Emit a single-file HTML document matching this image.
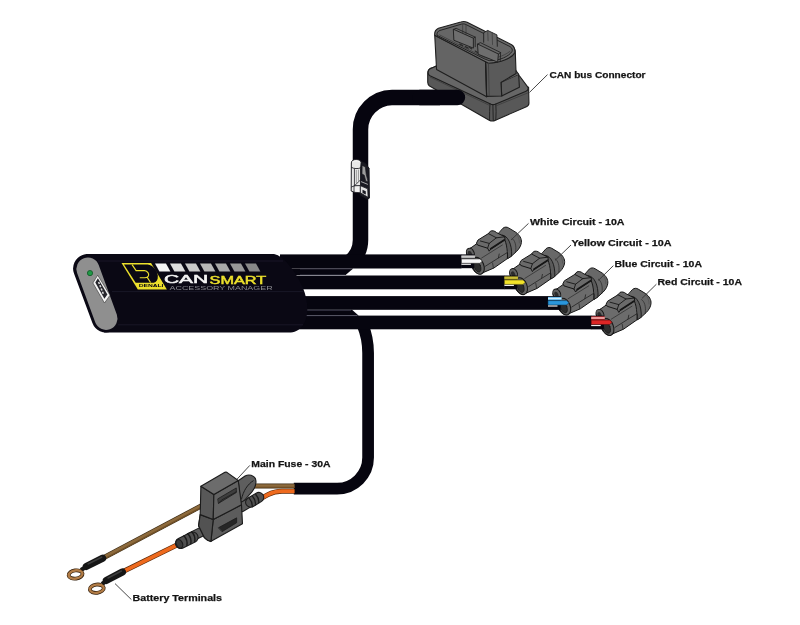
<!DOCTYPE html>
<html><head><meta charset="utf-8"><title>CANsmart wiring diagram</title>
<style>
html,body{margin:0;padding:0;background:#fff;}
body{width:800px;height:625px;overflow:hidden;font-family:"Liberation Sans",sans-serif;}
svg{display:block;will-change:transform;}
text{font-family:"Liberation Sans",sans-serif;}
.lbl{font-weight:bold;font-size:9.5px;fill:#141414;stroke:#141414;stroke-width:0.25;}
.ld{stroke:#333;stroke-width:0.9;fill:none;}
.cb{stroke:#06050f;fill:none;}
</style></head><body>
<svg width="800" height="625" viewBox="0 0 800 625">
<rect width="800" height="625" fill="#fff"/>

<!-- ===== CABLES ===== -->
<g id="cables">
  <!-- CAN cable -->
  <path class="cb" stroke-width="15.5" d="M440,97.5 H392 A32 32 0 0 0 360.5,129.5 V240 A28 28 0 0 1 349.8,262"/>
  <path d="M286,268.4 H353.2 L345.6,274.9 H286 Z" fill="#06050f"/>
  <!-- power cable -->
  <path class="cb" stroke-width="11.7" d="M293.8,488.6 H337 A31 31 0 0 0 368.1,457.6 V353 Q368.1,338 362.6,325"/>
  <path d="M286,309.8 H352 L358.8,315.7 H286 Z" fill="#06050f"/>
  <!-- four circuit cables -->
  <rect x="280" y="254.4" width="181.4" height="14.1" fill="#06050f"/>
  <rect x="280" y="275.5" width="224.4" height="13.8" fill="#06050f"/>
  <rect x="280" y="296.1" width="268" height="13.7" fill="#06050f"/>
  <rect x="280" y="315.6" width="311.2" height="13.7" fill="#06050f"/>
  <!-- thin separation highlights -->
  <path d="M300,268.9 H351" stroke="#55546a" stroke-width="0.6" fill="none"/>
  <path d="M300,275.2 H345" stroke="#8c8c9c" stroke-width="0.6" fill="none"/>
  <path d="M300,310.3 H351" stroke="#55546a" stroke-width="0.6" fill="none"/>
  <path d="M300,315.6 H357" stroke="#77778a" stroke-width="0.6" fill="none"/>
</g>


<!-- ===== CIRCUIT CONNECTORS ===== -->

<g id="connectors">
  <g transform="translate(455.4,218.8) scale(0.1)"><g stroke-linejoin="round" stroke-linecap="round">
  <!-- rear shell -->
  <path d="M478,92 C492,80 515,80 532,91 L606,136 C642,163 664,198 660,236 C657,266 642,296 612,326 L566,368 L520,398 L440,300 L430,150 Z" fill="#686868" stroke="#161616" stroke-width="10"/>
  <path d="M566,196 C594,215 612,260 602,332" fill="none" stroke="#2a2a2a" stroke-width="7"/>
  <path d="M604,146 C628,172 640,200 640,240" fill="none" stroke="#484848" stroke-width="5"/>
  <!-- collar -->
  <path d="M470,163 C522,168 568,250 562,374 L520,400 C528,300 500,215 440,190 Z" fill="#5a5a5a" stroke="#161616" stroke-width="9"/>
  <path d="M494,245 C512,270 520,300 522,335" fill="none" stroke="#7c7c7c" stroke-width="13"/>
  <!-- front body -->
  <path d="M150,294 L215,248 L330,175 L470,165 C505,215 525,300 520,398 L385,492 L245,552 C215,550 188,532 170,494 L120,372 C103,340 120,308 150,294 Z" fill="#6c6c6c" stroke="#161616" stroke-width="10"/>
  <!-- body edge lines -->
  <path d="M262,392 L470,262" fill="none" stroke="#2a2a2a" stroke-width="7"/>
  <path d="M300,474 L430,392 L438,352" fill="none" stroke="#222" stroke-width="8"/>
  <path d="M430,392 L520,337" fill="none" stroke="#222" stroke-width="8"/>
  <path d="M380,492 L372,442" fill="none" stroke="#222" stroke-width="7"/>
  <!-- upper lobe -->
  <ellipse cx="150" cy="344" rx="37" ry="52" transform="rotate(-24 150 344)" fill="#626262" stroke="#161616" stroke-width="10"/>
  <ellipse cx="146" cy="350" rx="19" ry="30" transform="rotate(-24 146 350)" fill="#2c2c2c"/>
  <!-- lower lobe ring -->
  <ellipse cx="228" cy="470" rx="56" ry="88" transform="rotate(-22 228 470)" fill="#626262" stroke="#161616" stroke-width="10.5"/>
  <ellipse cx="220" cy="478" rx="31" ry="58" transform="rotate(-22 220 478)" fill="#2c2c2c" stroke="#161616" stroke-width="7"/>
  <!-- latch -->
  <path d="M212,240 L226,212 L330,148 L350,124 C365,116 392,118 412,138 L494,180 L496,208 L354,302 L338,324 L322,294 L226,264 Z" fill="#6a6a6a" stroke="#161616" stroke-width="10"/>
  <path d="M330,148 L410,190 L494,180 M410,190 L338,246 L322,294 M338,246 L250,222" fill="none" stroke="#161616" stroke-width="9"/>
  <path d="M354,300 L488,212" fill="none" stroke="#161616" stroke-width="18"/>
</g></g>
  <g transform="translate(498.6,239.2) scale(0.1)"><g stroke-linejoin="round" stroke-linecap="round">
  <!-- rear shell -->
  <path d="M478,92 C492,80 515,80 532,91 L606,136 C642,163 664,198 660,236 C657,266 642,296 612,326 L566,368 L520,398 L440,300 L430,150 Z" fill="#686868" stroke="#161616" stroke-width="10"/>
  <path d="M566,196 C594,215 612,260 602,332" fill="none" stroke="#2a2a2a" stroke-width="7"/>
  <path d="M604,146 C628,172 640,200 640,240" fill="none" stroke="#484848" stroke-width="5"/>
  <!-- collar -->
  <path d="M470,163 C522,168 568,250 562,374 L520,400 C528,300 500,215 440,190 Z" fill="#5a5a5a" stroke="#161616" stroke-width="9"/>
  <path d="M494,245 C512,270 520,300 522,335" fill="none" stroke="#7c7c7c" stroke-width="13"/>
  <!-- front body -->
  <path d="M150,294 L215,248 L330,175 L470,165 C505,215 525,300 520,398 L385,492 L245,552 C215,550 188,532 170,494 L120,372 C103,340 120,308 150,294 Z" fill="#6c6c6c" stroke="#161616" stroke-width="10"/>
  <!-- body edge lines -->
  <path d="M262,392 L470,262" fill="none" stroke="#2a2a2a" stroke-width="7"/>
  <path d="M300,474 L430,392 L438,352" fill="none" stroke="#222" stroke-width="8"/>
  <path d="M430,392 L520,337" fill="none" stroke="#222" stroke-width="8"/>
  <path d="M380,492 L372,442" fill="none" stroke="#222" stroke-width="7"/>
  <!-- upper lobe -->
  <ellipse cx="150" cy="344" rx="37" ry="52" transform="rotate(-24 150 344)" fill="#626262" stroke="#161616" stroke-width="10"/>
  <ellipse cx="146" cy="350" rx="19" ry="30" transform="rotate(-24 146 350)" fill="#2c2c2c"/>
  <!-- lower lobe ring -->
  <ellipse cx="228" cy="470" rx="56" ry="88" transform="rotate(-22 228 470)" fill="#626262" stroke="#161616" stroke-width="10.5"/>
  <ellipse cx="220" cy="478" rx="31" ry="58" transform="rotate(-22 220 478)" fill="#2c2c2c" stroke="#161616" stroke-width="7"/>
  <!-- latch -->
  <path d="M212,240 L226,212 L330,148 L350,124 C365,116 392,118 412,138 L494,180 L496,208 L354,302 L338,324 L322,294 L226,264 Z" fill="#6a6a6a" stroke="#161616" stroke-width="10"/>
  <path d="M330,148 L410,190 L494,180 M410,190 L338,246 L322,294 M338,246 L250,222" fill="none" stroke="#161616" stroke-width="9"/>
  <path d="M354,300 L488,212" fill="none" stroke="#161616" stroke-width="18"/>
</g></g>
  <g transform="translate(541.8,259.6) scale(0.1)"><g stroke-linejoin="round" stroke-linecap="round">
  <!-- rear shell -->
  <path d="M478,92 C492,80 515,80 532,91 L606,136 C642,163 664,198 660,236 C657,266 642,296 612,326 L566,368 L520,398 L440,300 L430,150 Z" fill="#686868" stroke="#161616" stroke-width="10"/>
  <path d="M566,196 C594,215 612,260 602,332" fill="none" stroke="#2a2a2a" stroke-width="7"/>
  <path d="M604,146 C628,172 640,200 640,240" fill="none" stroke="#484848" stroke-width="5"/>
  <!-- collar -->
  <path d="M470,163 C522,168 568,250 562,374 L520,400 C528,300 500,215 440,190 Z" fill="#5a5a5a" stroke="#161616" stroke-width="9"/>
  <path d="M494,245 C512,270 520,300 522,335" fill="none" stroke="#7c7c7c" stroke-width="13"/>
  <!-- front body -->
  <path d="M150,294 L215,248 L330,175 L470,165 C505,215 525,300 520,398 L385,492 L245,552 C215,550 188,532 170,494 L120,372 C103,340 120,308 150,294 Z" fill="#6c6c6c" stroke="#161616" stroke-width="10"/>
  <!-- body edge lines -->
  <path d="M262,392 L470,262" fill="none" stroke="#2a2a2a" stroke-width="7"/>
  <path d="M300,474 L430,392 L438,352" fill="none" stroke="#222" stroke-width="8"/>
  <path d="M430,392 L520,337" fill="none" stroke="#222" stroke-width="8"/>
  <path d="M380,492 L372,442" fill="none" stroke="#222" stroke-width="7"/>
  <!-- upper lobe -->
  <ellipse cx="150" cy="344" rx="37" ry="52" transform="rotate(-24 150 344)" fill="#626262" stroke="#161616" stroke-width="10"/>
  <ellipse cx="146" cy="350" rx="19" ry="30" transform="rotate(-24 146 350)" fill="#2c2c2c"/>
  <!-- lower lobe ring -->
  <ellipse cx="228" cy="470" rx="56" ry="88" transform="rotate(-22 228 470)" fill="#626262" stroke="#161616" stroke-width="10.5"/>
  <ellipse cx="220" cy="478" rx="31" ry="58" transform="rotate(-22 220 478)" fill="#2c2c2c" stroke="#161616" stroke-width="7"/>
  <!-- latch -->
  <path d="M212,240 L226,212 L330,148 L350,124 C365,116 392,118 412,138 L494,180 L496,208 L354,302 L338,324 L322,294 L226,264 Z" fill="#6a6a6a" stroke="#161616" stroke-width="10"/>
  <path d="M330,148 L410,190 L494,180 M410,190 L338,246 L322,294 M338,246 L250,222" fill="none" stroke="#161616" stroke-width="9"/>
  <path d="M354,300 L488,212" fill="none" stroke="#161616" stroke-width="18"/>
</g></g>
  <g transform="translate(585,280) scale(0.1)"><g stroke-linejoin="round" stroke-linecap="round">
  <!-- rear shell -->
  <path d="M478,92 C492,80 515,80 532,91 L606,136 C642,163 664,198 660,236 C657,266 642,296 612,326 L566,368 L520,398 L440,300 L430,150 Z" fill="#686868" stroke="#161616" stroke-width="10"/>
  <path d="M566,196 C594,215 612,260 602,332" fill="none" stroke="#2a2a2a" stroke-width="7"/>
  <path d="M604,146 C628,172 640,200 640,240" fill="none" stroke="#484848" stroke-width="5"/>
  <!-- collar -->
  <path d="M470,163 C522,168 568,250 562,374 L520,400 C528,300 500,215 440,190 Z" fill="#5a5a5a" stroke="#161616" stroke-width="9"/>
  <path d="M494,245 C512,270 520,300 522,335" fill="none" stroke="#7c7c7c" stroke-width="13"/>
  <!-- front body -->
  <path d="M150,294 L215,248 L330,175 L470,165 C505,215 525,300 520,398 L385,492 L245,552 C215,550 188,532 170,494 L120,372 C103,340 120,308 150,294 Z" fill="#6c6c6c" stroke="#161616" stroke-width="10"/>
  <!-- body edge lines -->
  <path d="M262,392 L470,262" fill="none" stroke="#2a2a2a" stroke-width="7"/>
  <path d="M300,474 L430,392 L438,352" fill="none" stroke="#222" stroke-width="8"/>
  <path d="M430,392 L520,337" fill="none" stroke="#222" stroke-width="8"/>
  <path d="M380,492 L372,442" fill="none" stroke="#222" stroke-width="7"/>
  <!-- upper lobe -->
  <ellipse cx="150" cy="344" rx="37" ry="52" transform="rotate(-24 150 344)" fill="#626262" stroke="#161616" stroke-width="10"/>
  <ellipse cx="146" cy="350" rx="19" ry="30" transform="rotate(-24 146 350)" fill="#2c2c2c"/>
  <!-- lower lobe ring -->
  <ellipse cx="228" cy="470" rx="56" ry="88" transform="rotate(-22 228 470)" fill="#626262" stroke="#161616" stroke-width="10.5"/>
  <ellipse cx="220" cy="478" rx="31" ry="58" transform="rotate(-22 220 478)" fill="#2c2c2c" stroke="#161616" stroke-width="7"/>
  <!-- latch -->
  <path d="M212,240 L226,212 L330,148 L350,124 C365,116 392,118 412,138 L494,180 L496,208 L354,302 L338,324 L322,294 L226,264 Z" fill="#6a6a6a" stroke="#161616" stroke-width="10"/>
  <path d="M330,148 L410,190 L494,180 M410,190 L338,246 L322,294 M338,246 L250,222" fill="none" stroke="#161616" stroke-width="9"/>
  <path d="M354,300 L488,212" fill="none" stroke="#161616" stroke-width="18"/>
</g></g>
</g>


<!-- ===== CAN BUS CONNECTOR ===== -->
<g id="canconn" transform="translate(420,15) scale(0.18405)" stroke-linejoin="round" stroke-linecap="round" stroke="#1e1e1e" stroke-width="6">
  <!-- flange side faces -->
  <path d="M42,318 C42,300 50,292 66,288 L120,262 L395,470 L590,392 L592,478 C592,488 588,494 578,498 L410,572 C398,578 388,578 376,572 L52,386 C44,380 42,374 42,366 Z" fill="#585858"/>
  <!-- flange top -->
  <path d="M44,312 C44,298 52,290 68,286 L110,268 L540,330 L586,392 C590,402 586,410 576,414 L412,484 C400,489 390,488 380,482 L54,330 C46,325 44,320 44,312 Z" fill="#666"/>
  <path d="M396,486 L398,574 M380,482 C378,510 378,540 378,572 M412,484 C414,510 414,540 412,570" fill="none" stroke-width="5"/>
  <path d="M56,338 L380,492 M412,494 L584,424" fill="none" stroke="#3a3a3a" stroke-width="4"/>
  <!-- latch step on right -->
  <path d="M440,366 L536,322 L540,392 L444,440 Z" fill="#5c5c5c"/>
  <path d="M440,366 L520,300 L536,322" fill="#646464"/>
  <!-- upper housing: right face -->
  <path d="M356,252 L508,178 C516,186 518,196 518,206 L522,318 L440,366 L444,440 L360,442 Z" fill="#5a5a5a"/>
  <!-- upper housing: front face -->
  <path d="M80,110 L356,252 L362,444 L90,296 Z" fill="#646464"/>
  <!-- top rim -->
  <path d="M80,110 C78,92 84,80 100,72 L222,38 C234,34 244,34 256,40 L498,162 C510,170 516,184 516,200 L514,206 C500,232 440,262 372,262 L356,254 Z" fill="#6c6c6c"/>
  <!-- cavity -->
  <path d="M92,108 C92,96 96,88 108,84 L224,50 C234,47 242,48 250,52 L490,172 C500,178 504,190 500,198 C484,224 432,250 376,248 L354,240 Z" fill="#666" stroke-width="5"/>
  <!-- back wall rib -->
  <path d="M232,50 L232,96 M250,54 L250,104" fill="none" stroke="#3a3a3a" stroke-width="4"/>
  <!-- cavity inner wall shading -->
  <path d="M106,108 L352,232 C400,242 456,224 488,198" fill="none" stroke="#3a3a3a" stroke-width="4"/>
  <!-- left tongue -->
  <path d="M183,78 L290,126 L290,180 L186,138 Z" fill="#6e6e6e" stroke-width="5"/>
  <path d="M183,78 L196,72 L300,120 L290,126 M300,120 L300,172" fill="none" stroke-width="4.5"/>
  <!-- key box on back wall -->
  <path d="M346,148 L346,96 L368,84 L418,108 L420,170" fill="#696969" stroke-width="5"/>
  <path d="M368,84 L370,140 M392,96 L394,160" fill="none" stroke="#3a3a3a" stroke-width="4"/>
  <!-- right tongue -->
  <path d="M314,158 L426,212 L422,256 L318,214 Z" fill="#6e6e6e" stroke-width="5"/>
  <path d="M314,158 L328,150 L438,204 L426,212 M438,204 L436,248" fill="none" stroke-width="4.5"/>
  <!-- pin marks -->
  <path d="M216,158 L232,166 M246,172 L262,180 M270,176 L280,184 M300,196 L312,204" fill="none" stroke="#2a2a2a" stroke-width="7"/>
  <!-- front edge highlight -->
  <path d="M356,254 L362,444" fill="none" stroke-width="6"/>
  <path d="M372,262 L376,440" fill="none" stroke="#3a3a3a" stroke-width="4"/>
</g>


<!-- cable end over connector -->
<path class="cb" stroke-width="15.5" stroke-linecap="round" d="M420,97.5 H457.4"/>

<!-- ===== INLINE SMALL CONNECTOR ===== -->
<g id="inline" transform="translate(340,150) scale(0.0962)" stroke-linejoin="round" stroke-linecap="round" stroke="#16161c" stroke-width="10">
  <!-- dark right portion -->
  <path d="M214,120 L262,138 L302,190 L306,500 L284,512 L214,470 Z" fill="#1a1a22"/>
  <!-- left light portion -->
  <path d="M118,130 C118,108 140,100 168,100 C196,100 214,110 220,126 L214,196 L214,444 L150,440 L120,428 Z" fill="#e8e8e8"/>
  <path d="M122,182 C140,196 190,198 214,186" fill="none" stroke-width="9"/>
  <path d="M150,200 L150,372 L120,384 M150,372 L212,312 M150,372 L214,370" fill="none" stroke-width="8"/>
  <path d="M170,212 L170,340 M192,208 L192,318" stroke="#9a9a9a" stroke-width="10" fill="none"/>
  <path d="M150,372 L214,370 L214,444 L150,440 Z" fill="#f2f2f2" stroke-width="8"/>
  <!-- right: small block with square hole -->
  <path d="M214,372 L288,404 L292,492 L214,446 Z" fill="#e2e2e2" stroke-width="8"/>
  <path d="M234,412 L268,428 L268,462 L234,446 Z" fill="#1a1a22" stroke="none"/>
  <!-- right: grey latch pieces -->
  <path d="M232,160 L264,178 L272,250 L292,330 L268,324 L252,262 L230,250 Z" fill="#9c9c9c" stroke-width="7"/>
  <path d="M222,330 L286,356" fill="none" stroke="#bdbdbd" stroke-width="9"/>
  <path d="M140,118 C150,110 180,108 198,118" fill="none" stroke="#fafafa" stroke-width="10"/>
</g>


<!-- ===== POWER WIRES ===== -->
<g id="pwires" fill="none" stroke-linecap="butt">
  <!-- brown wire right part -->
  <path d="M250,486 H294.5" stroke="#3a2a14" stroke-width="5"/>
  <path d="M250,486 H294.5" stroke="#8d6a3c" stroke-width="3.7"/>
  <path d="M250,487.4 H294.5" stroke="#6e4e26" stroke-width="1.3"/>
  <!-- brown wire left part -->
  <path d="M203,505 L104,557.5" stroke="#3a2a14" stroke-width="5"/>
  <path d="M203,505 L104,557.5" stroke="#8d6a3c" stroke-width="3.7"/>
  <path d="M203.6,506.2 L104.6,558.7" stroke="#6e4e26" stroke-width="1.3"/>
  <!-- orange wire right part -->
  <path d="M258,500 L268,494.6 C273,492 277,491.2 282,491.2 H294.5" stroke="#5a2808" stroke-width="5"/>
  <path d="M258,500 L268,494.6 C273,492 277,491.2 282,491.2 H294.5" stroke="#ee6a1e" stroke-width="3.7"/>
  <!-- orange wire left part -->
  <path d="M182,542.5 L123,571.6" stroke="#5a2808" stroke-width="5"/>
  <path d="M182,542.5 L123,571.6" stroke="#ee6a1e" stroke-width="3.7"/>
</g>

<!-- ===== FUSE HOLDER ===== -->
<g id="fuse" transform="translate(170,460) scale(0.1625)" stroke-linejoin="round" stroke-linecap="round" stroke="#1c1c1c" stroke-width="7">
  <!-- tether tab -->
  <path d="M420,128 L462,98 C486,86 516,94 526,116 C534,140 524,170 504,196 L446,262 L432,250 Z" fill="#5e5e5e"/>
  <path d="M440,240 C452,190 476,150 512,128" fill="none" stroke-width="6"/>
  <!-- right boot -->
  <path d="M438,292 L520,244" stroke="#1c1c1c" stroke-width="60" fill="none"/>
  <path d="M438,292 L520,244" stroke="#5c5c5c" stroke-width="48" fill="none"/>
  <path d="M496,260 L546,230" stroke="#1c1c1c" stroke-width="68" fill="none"/>
  <path d="M496,260 L546,230" stroke="#505050" stroke-width="55" fill="none"/>
  <path d="M488,236 C502,252 508,270 506,288 M508,224 C522,240 528,258 526,276 M528,212 C542,228 548,246 546,262" fill="none" stroke-width="8"/>
  <!-- left boot -->
  <path d="M120,478 L226,426" stroke="#1c1c1c" stroke-width="62" fill="none"/>
  <path d="M120,478 L226,426" stroke="#5c5c5c" stroke-width="50" fill="none"/>
  <path d="M66,512 L140,476" stroke="#1c1c1c" stroke-width="72" fill="none"/>
  <path d="M66,512 L140,476" stroke="#505050" stroke-width="59" fill="none"/>
  <path d="M86,466 C102,484 108,506 104,526 M110,454 C126,472 132,494 128,514 M134,442 C150,460 156,482 152,502" fill="none" stroke-width="9"/>
  <ellipse cx="58" cy="516" rx="19" ry="28" transform="rotate(-25 58 516)" fill="#3a3a3a" stroke-width="7"/>
  <!-- lower body -->
  <path d="M186,336 L266,366 L440,276 L446,392 L250,502 C236,498 222,490 212,478 L176,404 Z" fill="#5c5c5c"/>
  <path d="M266,366 L252,500" fill="none"/>
  <path d="M186,336 L266,366 L252,500 C236,498 222,490 212,478 L176,404 Z" fill="#525252"/>
  <path d="M300,416 L410,356 L410,386 L322,440 Z" fill="#262626" stroke-width="5"/>
  <!-- cap -->
  <path d="M190,162 L270,212 L266,366 L186,336 Z" fill="#585858"/>
  <path d="M270,212 L420,126 L440,276 L266,366 Z" fill="#626262"/>
  <path d="M190,162 L338,76 C342,74 346,74 350,76 L420,126 L270,212 Z" fill="#6c6c6c"/>
  <path d="M296,238 L408,172 L408,200 L300,266 Z" fill="#3e3e3e" stroke-width="5"/>
  <path d="M300,266 L318,246 L408,196" fill="none" stroke-width="5"/>
</g>

<!-- ===== RING TERMINALS ===== -->
<g id="terms" stroke-linecap="butt">
  <!-- brown one -->
  <path d="M102.6,558.2 L86.4,566.4" stroke="#161616" stroke-width="7.2" stroke-linecap="round" fill="none"/>
  <path d="M101.6,557.2 L88,564" stroke="#3c3c3c" stroke-width="1.6" stroke-linecap="round" fill="none"/>
  <path d="M88,565.6 L81,570" stroke="#161616" stroke-width="4.2" fill="none"/>
  <ellipse cx="75.6" cy="574.5" rx="7" ry="4.1" fill="none" stroke="#33200e" stroke-width="3.8" transform="rotate(-8 75.6 574.5)"/>
  <ellipse cx="75.6" cy="574.5" rx="7" ry="4.1" fill="none" stroke="#b27c46" stroke-width="2.4" transform="rotate(-8 75.6 574.5)"/>
  <!-- orange one -->
  <path d="M122.4,572 L106.4,580.4" stroke="#161616" stroke-width="7.2" stroke-linecap="round" fill="none"/>
  <path d="M121.4,571 L108,578" stroke="#3c3c3c" stroke-width="1.6" stroke-linecap="round" fill="none"/>
  <path d="M108,579.6 L102,584" stroke="#161616" stroke-width="4.2" fill="none"/>
  <ellipse cx="96.8" cy="588.7" rx="7" ry="4.1" fill="none" stroke="#33200e" stroke-width="3.8" transform="rotate(-8 96.8 588.7)"/>
  <ellipse cx="96.8" cy="588.7" rx="7" ry="4.1" fill="none" stroke="#b27c46" stroke-width="2.4" transform="rotate(-8 96.8 588.7)"/>
</g>

<!-- ===== CIRCUIT WIRES ===== -->
<g id="cwires">
  <g>
    <rect x="461.09999999999997" y="254.4" width="13" height="13.8" fill="#06050f"/>
    <rect x="461.4" y="255.2" width="13.5" height="3.3" fill="#9a9a9a"/>
    <rect x="461.4" y="256.2" width="13.5" height="1.2" fill="#d8d8d8"/>
    <path d="M461.4,258.9 H480.0 l2.2,2.2 l-2.2,2.2 H461.4 Z" fill="#f8f8f8" stroke="#2a2a2a" stroke-width="0.6" stroke-linejoin="round"/>
    <rect x="461.4" y="263.7" width="9.5" height="1.2" fill="#ececec"/>
  </g>
  <g>
    <rect x="504.09999999999997" y="275.5" width="13" height="13.8" fill="#06050f"/>
    <rect x="504.4" y="276.3" width="13.5" height="3.3" fill="#a89c24"/>
    <rect x="504.4" y="277.3" width="13.5" height="1.2" fill="#d8cc40"/>
    <path d="M504.4,280.0 H523.0 l2.2,2.2 l-2.2,2.2 H504.4 Z" fill="#f2e32a" stroke="#5a5410" stroke-width="0.6" stroke-linejoin="round"/>
    <rect x="504.4" y="284.8" width="9.5" height="1.2" fill="#ececec"/>
  </g>
  <g>
    <rect x="547.7" y="296.1" width="13" height="13.8" fill="#06050f"/>
    <rect x="548" y="296.9" width="13.5" height="3.3" fill="#6cbcec"/>
    <rect x="548" y="297.9" width="13.5" height="1.2" fill="#d0ecfa"/>
    <path d="M548,300.6 H566.6 l2.2,2.2 l-2.2,2.2 H548 Z" fill="#2a96dc" stroke="#0c3c60" stroke-width="0.6" stroke-linejoin="round"/>
    <rect x="548" y="305.4" width="9.5" height="1.2" fill="#ececec"/>
  </g>
  <g>
    <rect x="590.9000000000001" y="315.6" width="13" height="13.8" fill="#06050f"/>
    <rect x="591.2" y="316.4" width="13.5" height="3.3" fill="#dc3a3a"/>
    <rect x="591.2" y="317.4" width="13.5" height="1.2" fill="#f8d8d8"/>
    <path d="M591.2,320.1 H609.8000000000001 l2.2,2.2 l-2.2,2.2 H591.2 Z" fill="#dc2626" stroke="#5a0c0c" stroke-width="0.6" stroke-linejoin="round"/>
    <rect x="591.2" y="324.9" width="9.5" height="1.2" fill="#ececec"/>
  </g>
</g>
<!-- ===== LEADER LINES ===== -->
<g id="leaders" class="ld">
  <path d="M547.5,74.6 L529.5,92.4"/>
  <path d="M528.5,223.4 L511,240"/>
  <path d="M571,245 L555,260.4"/>
  <path d="M613.4,265.6 L598.4,280.4"/>
  <path d="M656.4,284.2 L642,298.4"/>
  <path d="M249.8,465.4 L237.2,479"/>
  <path d="M131.4,599.6 L115,583.6"/>
</g>

<!-- ===== DEVICE ===== -->
<g id="device">
  <!-- body -->
  <path d="M87.6,268.5 L106,318" stroke="#0a0814" stroke-width="29" stroke-linecap="round" fill="none"/>
  <path d="M86,254.1 H274 C284,256 296,272 303,288 C308,300 309.5,316 303,325 C299,331 294,332.5 289,332.5 H104 Z" fill="#0a0814"/>
  <!-- subtle highlight lines -->
  <path d="M98,261 H283 M112,291.6 H303 M118,324.8 H303" stroke="#1d1a2c" stroke-width="0.8" fill="none"/>
  <!-- end face -->
  <path d="M87.9,269 L106,318.4" stroke="#8f8f8f" stroke-width="23" stroke-linecap="round" fill="none"/>
  <circle cx="90" cy="273.1" r="2.6" fill="#1f9a46" stroke="#145c2a" stroke-width="0.9"/>
  <!-- usb port -->
  <path d="M97.7,275.2 L92.9,283 L104.5,303 L110,295.2 Z" fill="#f4f4f4" stroke="#333" stroke-width="0.6"/>
  <path d="M97.9,278.2 L95.3,282.6 L104.4,298.8 L107.4,294.6 Z" fill="#26262c"/>
  <path d="M98.6,282 L103.6,294.6" stroke="#d8d8d8" stroke-width="1.6" fill="none" stroke-dasharray="2.2 1.3"/>
  <!-- logo -->
  <g id="logo" transform="translate(118,258) scale(0.0675)">
    <path d="M52,74 H490 L724,468 H294 Z" fill="#ece02c"/>
    <!-- black D -->
    <path d="M88,96 H440 C520,110 580,180 590,262 C594,320 570,356 530,368 H262 Z" fill="#0a0814"/>
    <!-- inner yellow line figure -->
    <path d="M208,98 L268,186 H392 C440,196 462,232 452,262 C444,284 424,292 400,292 H322 M436,290 L482,364" fill="none" stroke="#ece02c" stroke-width="17" stroke-linejoin="miter"/>
    <!-- DENALI band: black letters on yellow -->
    <text x="306" y="436" font-size="62" font-weight="bold" fill="#0a0814" textLength="368" lengthAdjust="spacingAndGlyphs">DENALI</text>
  </g>
  <!-- squares -->
  <g id="squares">
    <path d="M155,263.4 h11 l4.4,8.1 h-11 Z" fill="#f4f4f4"/>
    <path d="M170,263.4 h11 l4.4,8.1 h-11 Z" fill="#dedede"/>
    <path d="M185,263.4 h11 l4.4,8.1 h-11 Z" fill="#cacaca"/>
    <path d="M200,263.4 h11 l4.4,8.1 h-11 Z" fill="#b8b8b8"/>
    <path d="M215,263.4 h11 l4.4,8.1 h-11 Z" fill="#a8a8a8"/>
    <path d="M230,263.4 h11 l4.4,8.1 h-11 Z" fill="#989898"/>
    <path d="M245,263.4 h11 l4.4,8.1 h-11 Z" fill="#888888"/>
  </g>
  <text x="164" y="283.1" font-size="10.8" fill="#f4f4f4" stroke="#f4f4f4" stroke-width="0.45" textLength="44.2" lengthAdjust="spacingAndGlyphs">CAN</text>
  <text x="209.6" y="283.8" font-size="10.2" fill="#ece02c" stroke="#ece02c" stroke-width="0.45" textLength="56.6" lengthAdjust="spacingAndGlyphs">SMART</text>
  <text x="169.6" y="289.7" font-size="4.7" fill="#8a8a90" textLength="103" lengthAdjust="spacingAndGlyphs">ACCESSORY MANAGER</text>
</g>

<!-- ===== LABELS ===== -->
<g id="labels">
  <text class="lbl" x="549.5" y="77.8" textLength="96" lengthAdjust="spacingAndGlyphs">CAN bus Connector</text>
  <text class="lbl" x="530" y="225" textLength="94.5" lengthAdjust="spacingAndGlyphs">White Circuit - 10A</text>
  <text class="lbl" x="571.5" y="246" textLength="100" lengthAdjust="spacingAndGlyphs">Yellow Circuit - 10A</text>
  <text class="lbl" x="614.5" y="267" textLength="87.5" lengthAdjust="spacingAndGlyphs">Blue Circuit - 10A</text>
  <text class="lbl" x="657.5" y="285.2" textLength="84.5" lengthAdjust="spacingAndGlyphs">Red Circuit - 10A</text>
  <text class="lbl" x="251.3" y="467" textLength="79.2" lengthAdjust="spacingAndGlyphs">Main Fuse - 30A</text>
  <text class="lbl" x="132.5" y="600.8" textLength="89.5" lengthAdjust="spacingAndGlyphs">Battery Terminals</text>
</g>
</svg>
</body></html>
